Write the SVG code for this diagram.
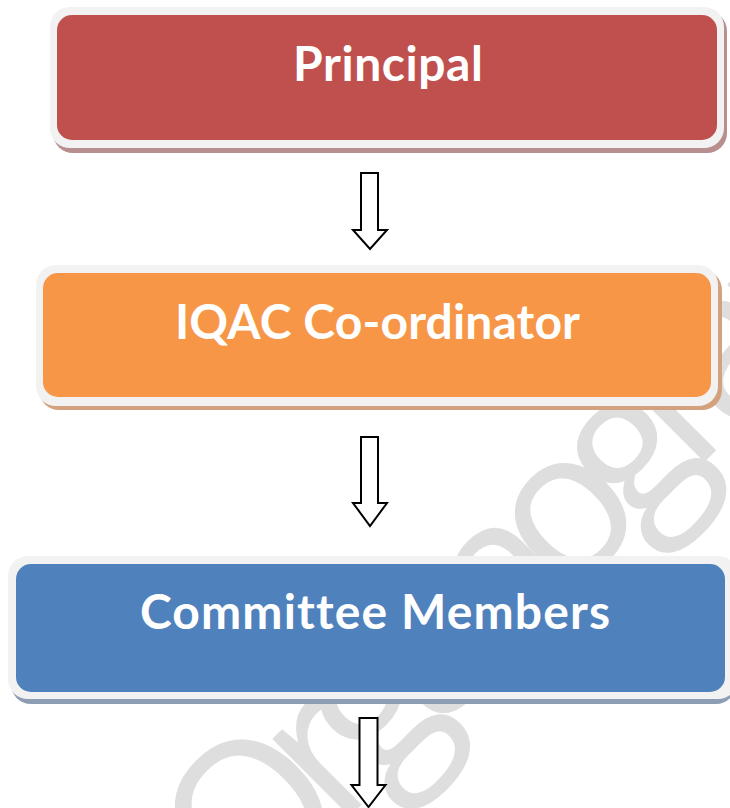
<svg xmlns="http://www.w3.org/2000/svg" width="730" height="808" viewBox="0 0 730 808">
<style>
.frame{fill:#f2f2f2}
.label{font-family:Lato,"Open Sans","Liberation Sans",sans-serif;font-weight:700;font-size:48px;fill:#ffffff;text-anchor:middle;font-variant-ligatures:none}
.arrow{fill:#ffffff;stroke:#000000;stroke-width:2;stroke-linejoin:miter}
.wm{font-family:"Open Sans","Noto Sans",sans-serif;font-weight:400;font-size:205px;fill:#dedede;letter-spacing:-28px}
</style>
<rect width="730" height="808" fill="#ffffff"/>
<text class="wm" transform="rotate(-45)" x="-479" y="825">Organogram</text>
<g id="principal">
<rect x="53" y="11" width="674" height="142" rx="20" fill="#b88e8f"/>
<rect class="frame" x="50" y="7" width="674" height="141" rx="20"/>
<rect x="57" y="15" width="660" height="125" rx="15" fill="#c0504d"/>
<text class="label" x="388" y="81" textLength="190">Principal</text>
</g>
<g id="iqac">
<rect x="39" y="270" width="683" height="140" rx="20" fill="#d4a17f"/>
<rect class="frame" x="36" y="265" width="682" height="141" rx="20"/>
<rect x="43" y="273" width="668" height="124" rx="15" fill="#f79646"/>
<text class="label" x="377.5" y="339" textLength="405">IQAC Co-ordinator</text>
</g>
<g id="committee">
<rect x="11" y="560" width="725" height="144" rx="20" fill="#8d9db3"/>
<rect class="frame" x="8" y="556" width="730" height="143" rx="20"/>
<rect x="16" y="564" width="709" height="128" rx="15" fill="#4f81bd"/>
<text class="label" x="375" y="629" textLength="470">Committee Members</text>
</g>
<g id="connectors">
<path class="arrow" d="M361,173 H378 V230 H387 L370,249 L353,230 H361 Z"/>
<path class="arrow" d="M361,437 H378 V503 H387 L370,526 L353,503 H361 Z"/>
<path class="arrow" d="M359.5,718 H377.5 V785 H385.5 L368.5,807 L351.5,785 H359.5 Z"/>
</g>
</svg>
